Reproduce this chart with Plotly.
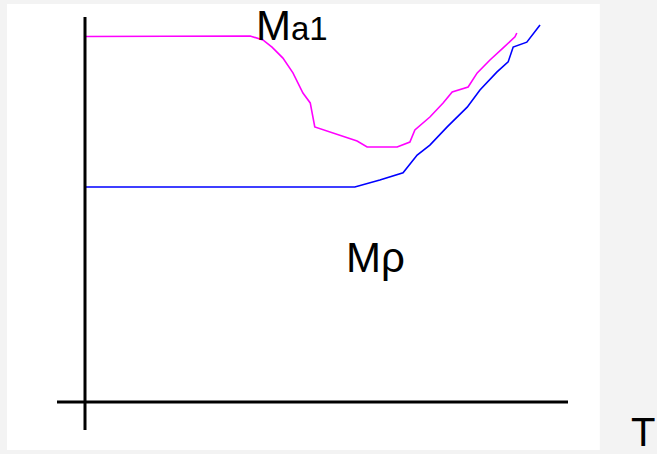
import plotly.graph_objects as go

# Data (T along x, M along y)
ma1_t = [0, 36.3, 39.1, 41.1, 43.5, 45.7, 47.9, 49.5, 50.5, 53.8, 57.6, 59.8, 62.0,
         68.6, 71.4, 72.5, 75.8, 78.7, 80.7, 84.2, 86.2, 89.0, 91.9, 94.5, 94.9]
ma1_m = [96.2, 96.3, 95.3, 93.4, 90.5, 86.6, 81.3, 78.7, 72.4, 71.1, 69.5, 68.7, 67.1,
         67.1, 68.4, 71.6, 75.0, 78.7, 81.6, 82.9, 86.6, 90.0, 93.2, 96.1, 97.1]

mp_t = [0, 59.3, 64.8, 69.9, 73.0, 75.8, 79.6, 84.0, 86.8, 90.5, 93.0, 94.1, 97.1, 100]
mp_m = [56.6, 56.6, 58.4, 60.3, 65.0, 67.6, 72.4, 77.6, 82.1, 86.8, 89.5, 93.4, 94.7, 99.2]

labels = ["M<span style='font-size:33px'>a1</span>", "Mρ", "T"]
label_t = [37.2, 56.9, 119.6]
label_m = [99.0, 37.9, -7.9]
label_size = [42, 42, 40]

FONT = "Arial, Liberation Sans, sans-serif"

fig = go.Figure()
fig.add_trace(go.Scatter(x=ma1_t, y=ma1_m, mode="lines",
                         line=dict(color="#ff00ff", width=1.6), hoverinfo="skip"))
fig.add_trace(go.Scatter(x=mp_t, y=mp_m, mode="lines",
                         line=dict(color="#0000ff", width=1.6), hoverinfo="skip"))

shapes = [
    dict(type="rect", xref="paper", yref="paper", x0=0.0107, x1=0.913, y0=0.0088, y1=0.991,
         fillcolor="white", line=dict(width=0), layer="below"),
    dict(type="line", x0=0, x1=0, y0=-7.37, y1=101.3, line=dict(color="black", width=3)),
    dict(type="line", x0=-6.15, x1=106.15, y0=0, y1=0, line=dict(color="black", width=3)),
]

annotations = [
    dict(x=t, y=m, text=s, showarrow=False, xanchor="left", yanchor="middle",
         font=dict(family=FONT, size=fs, color="black"))
    for s, t, m, fs in zip(labels, label_t, label_m, label_size)
]

fig.update_layout(
    width=657, height=454, margin=dict(l=0, r=0, t=0, b=0),
    paper_bgcolor="#f3f3f3", plot_bgcolor="rgba(0,0,0,0)",
    showlegend=False, shapes=shapes, annotations=annotations,
    xaxis=dict(range=[-18.68, 125.71], visible=False, fixedrange=True),
    yaxis=dict(range=[-13.68, 105.79], visible=False, fixedrange=True),
)
fig.write_html("out.html", config={"displayModeBar": False})

# remove the default page margin so the figure sits at the window's corner
with open("out.html", encoding="utf-8") as f:
    html = f.read()
html = html.replace("<body>", "<body style=\"margin:0;overflow:hidden\">", 1)
with open("out.html", "w", encoding="utf-8") as f:
    f.write(html)
